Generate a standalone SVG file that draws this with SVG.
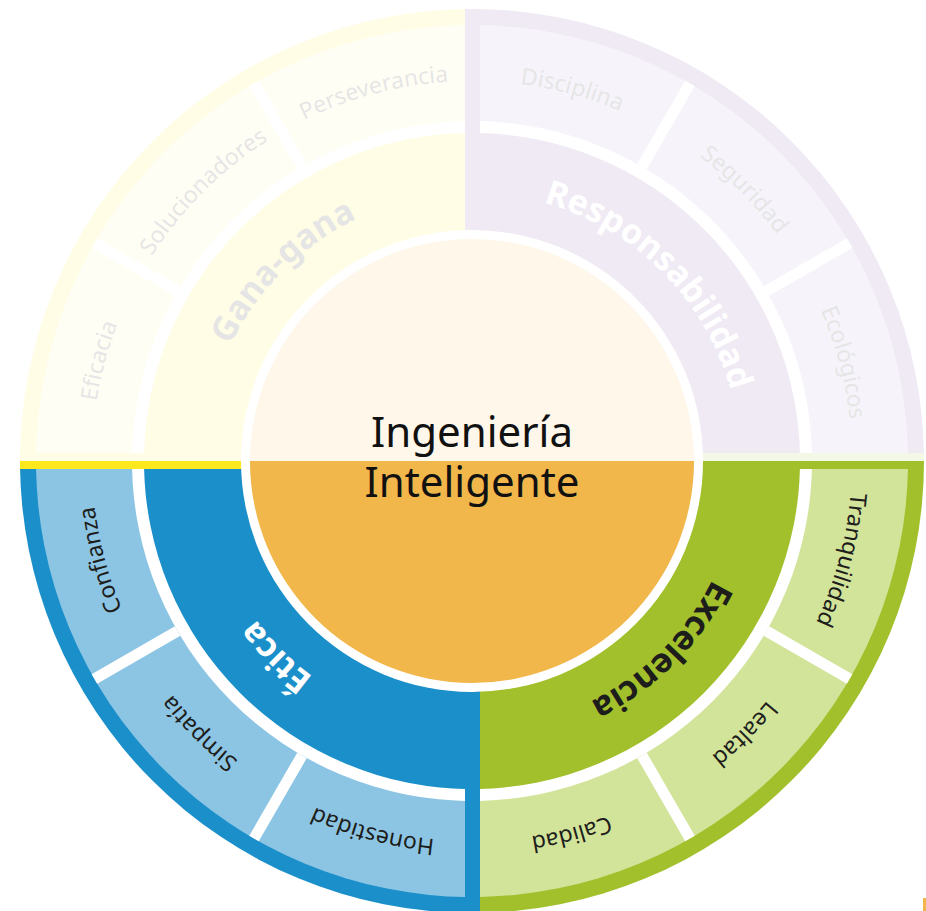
<svg xmlns="http://www.w3.org/2000/svg" xmlns:xlink="http://www.w3.org/1999/xlink" width="926" height="911" viewBox="0 0 926 911">
<style>
  text { font-family: "Noto Sans", "DejaVu Sans", sans-serif; }
  .sub { font-size: 23px; fill: #1d1d1b; text-anchor: middle; }
  .main { font-size: 34px; font-weight: 700; text-anchor: middle; }
  .dark { fill: #1d1d1b; }
  .light { fill: #ffffff; }
  .gap { stroke: #ffffff; stroke-width: 11; fill: none; }
  .center { font-size: 42px; fill: #111111; text-anchor: middle; }
</style>
<defs>
  <path id="subArc" d="M852 461A380 380 0 1 1 92 461A380 380 0 1 1 852 461"/>
  <path id="mainArc" d="M740 461A268 268 0 1 1 204 461A268 268 0 1 1 740 461"/>
  <clipPath id="clipTLo"><rect x="0" y="0" width="465" height="469"/></clipPath>
  <clipPath id="clipTLi"><rect x="0" y="0" width="465" height="453"/></clipPath>
  <clipPath id="clipTRo"><rect x="465" y="0" width="461" height="453"/></clipPath>
  <clipPath id="clipTRi"><rect x="480" y="0" width="446" height="453"/></clipPath>
  <clipPath id="clipBRo"><rect x="480" y="453" width="446" height="458"/></clipPath>
  <clipPath id="clipBRi"><rect x="480" y="469" width="446" height="442"/></clipPath>
  <clipPath id="clipBLo"><rect x="0" y="469" width="480" height="442"/></clipPath>
  <clipPath id="clipBLi"><rect x="0" y="469" width="465" height="442"/></clipPath>
</defs>
<rect width="926" height="911" fill="#ffffff"/>

<g id="gana-gana">
  <circle cx="472" cy="461" r="452" fill="#fde81d" clip-path="url(#clipTLo)"/>
  <g clip-path="url(#clipTLi)">
    <circle cx="472" cy="461" r="436" fill="#fff29a"/>
    <circle cx="472" cy="461" r="340" fill="#ffffff"/>
    <circle cx="472" cy="461" r="328" fill="#fde81d"/>
    <path class="gap" d="M177.6 291L94.4 243M302 166.6L254 83.4"/>
  </g>
  <text class="main dark"><textPath xlink:href="#subArc" href="#mainArc" startOffset="1052.43">Gana-gana</textPath></text>
  <g id="eficacia"><text class="sub"><textPath href="#subArc" startOffset="1293.29">Eficacia</textPath></text></g>
  <g id="solucionadores"><text class="sub"><textPath href="#subArc" startOffset="1492.26">Solucionadores</textPath></text></g>
  <g id="perseverancia"><text class="sub"><textPath href="#subArc" startOffset="1691.23">Perseverancia</textPath></text></g>
</g>

<g id="responsabilidad">
  <circle cx="472" cy="461" r="452" fill="#76479a" clip-path="url(#clipTRo)"/>
  <g clip-path="url(#clipTRi)">
    <circle cx="472" cy="461" r="436" fill="#ab9ccd"/>
    <circle cx="472" cy="461" r="340" fill="#ffffff"/>
    <circle cx="472" cy="461" r="328" fill="#76479a"/>
    <path class="gap" d="M642 166.6L690 83.4M766.4 291L849.6 243"/>
  </g>
  <text class="main light"><textPath href="#mainArc" startOffset="1473.40">Responsabilidad</textPath></text>
  <g id="disciplina"><text class="sub"><textPath href="#subArc" startOffset="1890.19">Disciplina</textPath></text></g>
  <g id="seguridad"><text class="sub"><textPath href="#subArc" startOffset="2089.16">Seguridad</textPath></text></g>
  <g id="ecologicos"><text class="sub"><textPath href="#subArc" startOffset="2288.13">Ecológicos</textPath></text></g>
</g>

<g id="excelencia">
  <circle cx="472" cy="461" r="452" fill="#a2c02b" clip-path="url(#clipBRo)"/>
  <g clip-path="url(#clipBRi)">
    <circle cx="472" cy="461" r="436" fill="#d2e39a"/>
    <circle cx="472" cy="461" r="340" fill="#ffffff"/>
    <circle cx="472" cy="461" r="328" fill="#a2c02b"/>
    <path class="gap" d="M766.4 631L849.6 679M642 755.4L690 838.6"/>
  </g>
  <text class="main dark"><textPath href="#mainArc" startOffset="210.49">Excelencia</textPath></text>
  <g id="tranquilidad"><text class="sub"><textPath href="#subArc" startOffset="99.48">Tranquilidad</textPath></text></g>
  <g id="lealtad"><text class="sub"><textPath href="#subArc" startOffset="298.45">Lealtad</textPath></text></g>
  <g id="calidad"><text class="sub"><textPath href="#subArc" startOffset="497.42">Calidad</textPath></text></g>
</g>

<g id="etica">
  <circle cx="472" cy="461" r="452" fill="#1a8fca" clip-path="url(#clipBLo)"/>
  <g clip-path="url(#clipBLi)">
    <circle cx="472" cy="461" r="436" fill="#8cc5e4"/>
    <circle cx="472" cy="461" r="340" fill="#ffffff"/>
    <circle cx="472" cy="461" r="328" fill="#1a8fca"/>
    <path class="gap" d="M302 755.4L254 838.6M177.6 631L94.4 679"/>
  </g>
  <text class="main light"><textPath href="#mainArc" startOffset="631.46">Ética</textPath></text>
  <g id="honestidad"><text class="sub"><textPath href="#subArc" startOffset="696.39">Honestidad</textPath></text></g>
  <g id="simpatia"><text class="sub"><textPath href="#subArc" startOffset="895.35">Simpatía</textPath></text></g>
  <g id="confianza"><text class="sub"><textPath href="#subArc" startOffset="1094.32">Confianza</textPath></text></g>
</g>

<g id="centro">
  <circle cx="472" cy="461" r="231" fill="#ffffff"/>
  <circle cx="472" cy="461" r="222" fill="#f1b74a"/>
</g>

<rect id="veil" x="0" y="0" width="926" height="461" fill="#ffffff" opacity="0.885"/>

<g id="centro-texto">
  <text class="center" x="472" y="447">Ingeniería</text>
  <text class="center" x="472" y="497">Inteligente</text>
</g>
<rect x="923" y="898" width="3" height="13" fill="#f1b74a"/>
<g id="connectors"/>
</svg>
